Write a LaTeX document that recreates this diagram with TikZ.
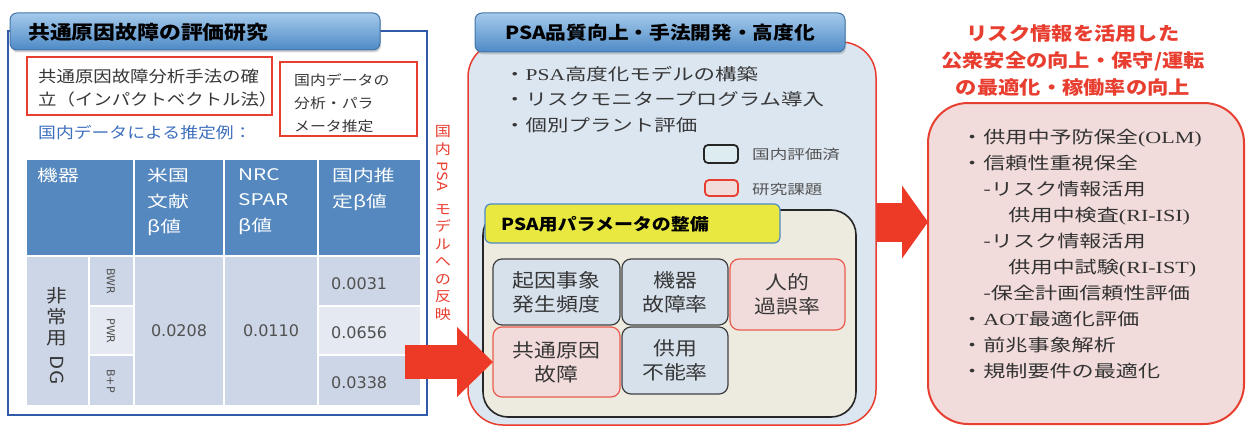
\documentclass[tikz,border=0pt]{standalone}
\usepackage{fontspec}
\usepackage{graphicx}
\usetikzlibrary{arrows.meta,shadows}
\setmainfont{Noto Sans CJK JP}
\newfontfamily\jpb[FakeStretch=1.15]{Noto Sans CJK JP}
\newfontfamily\jpc[FakeStretch=1.3]{Noto Sans CJK JP}
\newfontfamily\latc[FakeStretch=1.3]{Liberation Serif}
\newfontfamily\dvs{DejaVu Sans}
\newcommand\fsz[2]{\fontsize{#1}{#2}\selectfont}
\definecolor{frameblue}{RGB}{50,90,170}
\definecolor{hdrblue}{RGB}{84,136,190}
\definecolor{cellblue}{RGB}{205,214,230}
\definecolor{celllight}{RGB}{228,233,242}
\definecolor{boxred}{RGB}{232,62,48}
\definecolor{arrred}{RGB}{236,58,38}
\definecolor{midfill}{RGB}{220,230,241}
\definecolor{beige}{RGB}{237,235,224}
\definecolor{yel}{RGB}{232,232,64}
\definecolor{pinkfill}{RGB}{242,220,219}
\definecolor{paleblue}{RGB}{214,225,236}
\definecolor{txtgray}{RGB}{55,55,55}
\definecolor{numgray}{RGB}{80,80,80}
\definecolor{tblue}{RGB}{60,110,190}
\definecolor{ttop}{RGB}{165,202,235}
\definecolor{tbot}{RGB}{78,138,198}
\definecolor{legfill}{RGB}{220,236,240}
\begin{document}
\begin{tikzpicture}[x=1pt,y=-1pt,
  box/.style={anchor=north west, inner sep=0pt, outer sep=0pt},
  titlebox/.style={box, rounded corners=7pt, top color=ttop, bottom color=tbot,
     draw=tbot!85!black, line width=1pt,
     drop shadow={opacity=0.35, shadow xshift=1pt, shadow yshift=-2.5pt}},
  redbox/.style={box, draw=boxred, line width=2.5pt, fill=white},
  bluecell/.style={box, rounded corners=9pt, fill=paleblue, draw=black!75, line width=1.2pt},
  pinkcell/.style={box, rounded corners=9pt, fill=pinkfill, draw=boxred!85, line width=1.2pt},
  celltxt/.style={align=center, font=\jpb\fsz{19}{24}, text=txtgray},
  hdrtxt/.style={anchor=north west, inner sep=0pt, align=left, font=\jpc\fsz{16}{25.5}, text=white},
  numtxt/.style={font=\dvs\fsz{16}{18}, text=numgray, inner sep=0pt},
  subtxt/.style={rotate=-90, font=\dvs\fsz{11}{13}, text=numgray, inner sep=0pt},
  bigarrow/.style={draw=arrred, line cap=butt}
]
\useasboundingbox (0,0) rectangle (1248,428);

% ---------------- left panel ----------------
\node[box, minimum width=419pt, minimum height=384pt, draw=frameblue, line width=2.5pt] (lp) at (8,31) {};
\node[titlebox, minimum width=370pt, minimum height=37pt] (lt) at (10,13) {};
\node[anchor=west, inner sep=0pt, font=\jpb\bfseries\fsz{19}{22}] (ltt) at (28,32) {共通原因故障の評価研究};

\node[redbox, minimum width=245pt, minimum height=58pt] (rb1) at (27,57) {};
\node[anchor=west, inner sep=0pt, align=left, font=\jpb\fsz{16}{23}, text=txtgray] (rb1t) at (38,88) {共通原因故障分析手法の確\\立（インパクトベクトル法）};
\node[redbox, minimum width=137pt, minimum height=74pt] (rb2) at (280,62) {};
\node[anchor=west, inner sep=0pt, align=left, font=\jpb\fsz{13.8}{23}, text=txtgray] (rb2t) at (294,103) {国内データの\\分析・パラ\\メータ推定};
\node[anchor=west, inner sep=0pt, font=\jpb\fsz{15.5}{18}, text=tblue] (est) at (38,133) {国内データによる推定例：};

% table
\fill[hdrblue] (27,160) rectangle (420,255);
\fill[cellblue] (27,256) rectangle (420,405);
\fill[celllight] (90,306) rectangle (133,355);
\fill[celllight] (319,306) rectangle (420,355);
\draw[white, line width=2pt] (134,160) -- (134,405) (224,160) -- (224,405) (318,160) -- (318,405)
  (27,256) -- (420,256) (89,256) -- (89,405)
  (89,306) -- (134,306) (89,355) -- (134,355) (318,306) -- (420,306) (318,355) -- (420,355);

\node[hdrtxt] (h1) at (37,168) {機器};
\node[hdrtxt] (h2) at (147,168) {米国\\文献\\β値};
\node[hdrtxt] (h3) at (238,168) {NRC\\SPAR\\β値};
\node[hdrtxt] (h4) at (332,168) {国内推\\定β値};

\node[align=center, inner sep=0pt, font=\jpb\fsz{18}{21}, text=txtgray] (dg) at (57,336) {非\\常\\用\\[2pt]\raisebox{12pt}{\rotatebox{-90}{DG}}};
\node[subtxt] (bwr) at (111,281) {BWR};
\node[subtxt] (pwr) at (111,331) {PWR};
\node[subtxt] (bp) at (111,381) {B+P};
\node[numtxt] (v1) at (179,331) {0.0208};
\node[numtxt] (v2) at (271,331) {0.0110};
\node[numtxt, anchor=west] (v3) at (331,284) {0.0031};
\node[numtxt, anchor=west] (v4) at (331,333) {0.0656};
\node[numtxt, anchor=west] (v5) at (331,383) {0.0338};

% vertical text
\node[align=center, inner sep=0pt, font=\jpb\fsz{14}{17.5}, text=boxred] (vt) at (443,223)
  {国\\内\\[1pt]\raisebox{11pt}{\rotatebox{-90}{PSA}}\\[12pt]モ\\デ\\ル\\へ\\の\\反\\映};

% ---------------- middle panel ----------------
\node[box, minimum width=408pt, minimum height=383pt, rounded corners=35pt, fill=midfill, draw=boxred, line width=1.5pt] (mp) at (468,42) {};
\node[titlebox, minimum width=370pt, minimum height=39pt] (mt) at (475,13) {};
\node[inner sep=0pt, font=\jpb\bfseries\fsz{18}{22}] (mtt) at (660,33) {PSA品質向上・手法開発・高度化};

\node[anchor=west, inner sep=0pt, font=\jpc\fsz{16.5}{20}, text=txtgray] (mb1) at (504,74) {・{\latc PSA}高度化モデルの構築};
\node[anchor=west, inner sep=0pt, font=\jpc\fsz{16.5}{20}, text=txtgray] (mb2) at (504,99) {・リスクモニタープログラム導入};
\node[anchor=west, inner sep=0pt, font=\jpc\fsz{16.5}{20}, text=txtgray] (mb3) at (504,125) {・個別プラント評価};

\node[box, minimum width=34pt, minimum height=18pt, rounded corners=4pt, fill=legfill, draw=black!85, line width=1.8pt] (lg1) at (704,145) {};
\node[anchor=west, inner sep=0pt, font=\jpc\fsz{13.5}{16}, text=txtgray!85] (lg1t) at (752,154) {国内評価済};
\node[box, minimum width=33pt, minimum height=16pt, rounded corners=4pt, fill=pinkfill, draw=boxred, line width=1.8pt] (lg2) at (705,180) {};
\node[anchor=west, inner sep=0pt, font=\jpc\fsz{13.5}{16}, text=txtgray!85] (lg2t) at (752,189) {研究課題};

\node[box, minimum width=373pt, minimum height=207pt, rounded corners=25pt, fill=beige, draw=black!85, line width=1.6pt] (ip) at (483,210) {};
\node[box, minimum width=295pt, minimum height=39pt, rounded corners=6pt, fill=yel, draw=tbot, line width=1.2pt] (yt) at (485,204) {};
\node[anchor=west, inner sep=0pt, font=\jpb\bfseries\fsz{16.5}{20}] (ytt) at (501,224) {PSA用パラメータの整備};

\node[bluecell, minimum width=127pt, minimum height=66pt] (c1) at (493,259) {};
\node[celltxt] (c1t) at (c1.center) {起因事象\\発生頻度};
\node[bluecell, minimum width=106pt, minimum height=66pt] (c2) at (622,259) {};
\node[celltxt] (c2t) at (c2.center) {機器\\故障率};
\node[pinkcell, minimum width=115pt, minimum height=71pt] (c3) at (730,259) {};
\node[celltxt] (c3t) at (c3.center) {人的\\過誤率};
\node[pinkcell, minimum width=127pt, minimum height=70pt] (ccf) at (493,327) {};
\node[celltxt] (c4t) at (ccf.center) {共通原因\\故障};
\node[bluecell, minimum width=106pt, minimum height=67pt] (c5) at (622,327) {};
\node[celltxt] (c5t) at (c5.center) {供用\\不能率};

% ---------------- right panel ----------------
\node[align=center, inner sep=0pt, font=\jpb\bfseries\fsz{18.5}{27}, text=boxred] (rt) at (1073,60)
  {リスク情報を活用した\\公衆安全の向上・保守/運転\\の最適化・稼働率の向上};
\node[box, minimum width=316pt, minimum height=321pt, rounded corners=40pt, fill=pinkfill, draw=boxred, line width=2pt] (rp) at (928,103) {};
\node[anchor=west, inner sep=0pt, align=left, font=\jpc\fsz{17}{26}, text=black!80] (rbul) at (961,254.5)
  {・供用中予防保全{\latc (OLM)}\\
   ・信頼性重視保全\\
   \phantom{・}-リスク情報活用\\
   \phantom{・・}\hspace{3pt}供用中検査{\latc (RI-ISI)}\\
   \phantom{・}-リスク情報活用\\
   \phantom{・・}\hspace{3pt}供用中試験{\latc (RI-IST)}\\
   \phantom{・}-保全計画信頼性評価\\
   ・{\latc AOT}最適化評価\\
   ・前兆事象解析\\
   ・規制要件の最適化};

% ---------------- arrows ----------------
\coordinate (a1s) at (405,362);
\draw[bigarrow, line width=34pt, -{Triangle[length=36pt,width=70pt,line width=0pt]}] (a1s) -- (ccf.west);
\coordinate (a2s) at (877,222);
\draw[bigarrow, line width=39pt, -{Triangle[length=26pt,width=73pt,line width=0pt]}] (a2s) -- (a2s -| rp.west);
\end{tikzpicture}
\end{document}
